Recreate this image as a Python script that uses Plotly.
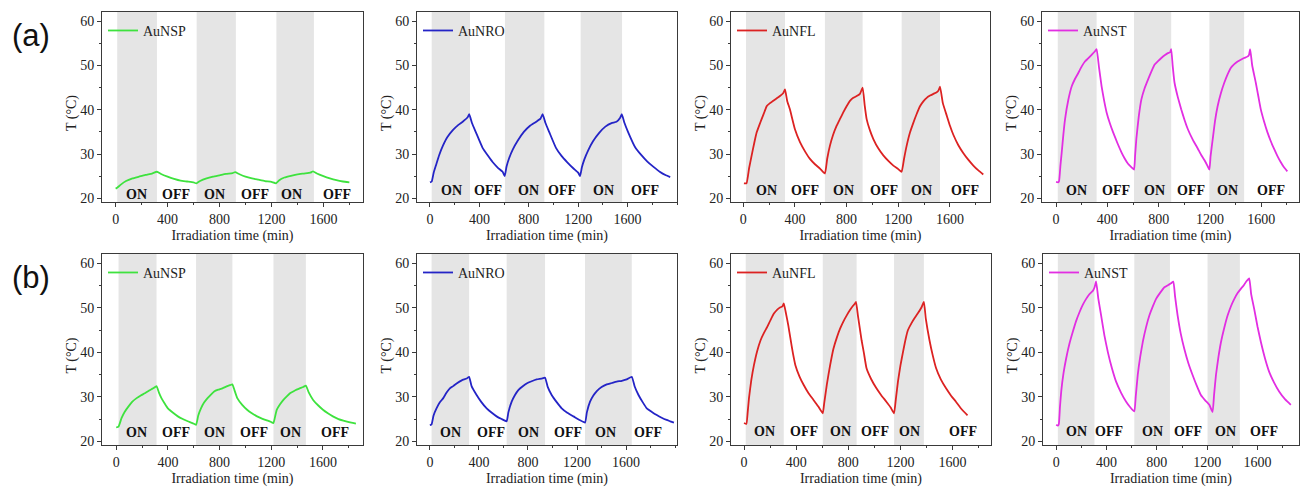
import plotly.graph_objects as go

W, H = 1302, 488

# ---------------- data ----------------
# (a) row
a_nsp_t = [0, 12, 40, 80, 130, 180, 230, 280, 318,
           350, 400, 450, 500, 550, 600, 622,
           650, 700, 750, 800, 850, 900, 920,
           950, 1000, 1050, 1100, 1150, 1200, 1235,
           1260, 1300, 1350, 1400, 1450, 1500, 1520,
           1550, 1600, 1650, 1700, 1750, 1800]
a_nsp_T = [22.2, 22.4, 23.1, 23.9, 24.5, 24.9, 25.3, 25.6, 26.0,
           25.5, 24.9, 24.4, 24.0, 23.8, 23.6, 23.4,
           23.9, 24.5, 24.9, 25.2, 25.5, 25.7, 25.9,
           25.5, 24.9, 24.5, 24.2, 23.9, 23.7, 23.4,
           24.1, 24.7, 25.1, 25.4, 25.6, 25.8, 26.1,
           25.6, 25.0, 24.5, 24.1, 23.8, 23.6]

a_nro_t = [0, 14, 30, 50, 75, 105, 140, 185, 230, 265, 305, 318,
           340, 372, 426, 470, 507, 550, 588, 605,
           620, 640, 670, 710, 760, 810, 860, 895, 912,
           935, 965, 1020, 1065, 1110, 1160, 1200, 1215,
           1230, 1250, 1280, 1320, 1370, 1420, 1470, 1510, 1540, 1553,
           1575, 1605, 1660, 1710, 1760, 1810, 1860, 1910, 1945]
a_nro_T = [23.6, 23.8, 25.8, 27.6, 29.8, 31.9, 33.8, 35.4, 36.6, 37.3, 38.3, 39.0,
           37.0, 34.9, 31.4, 29.6, 28.2, 26.9, 26.0, 25.0,
           27.2, 29.0, 31.0, 33.0, 35.0, 36.4, 37.3, 38.0, 39.0,
           37.0, 35.0, 31.4, 29.6, 28.2, 26.8, 25.8, 25.0,
           27.0, 28.8, 30.8, 32.9, 34.8, 36.2, 37.0, 37.3, 38.2, 39.0,
           37.0, 34.9, 31.6, 29.8, 28.3, 27.1, 26.0, 25.2, 24.8]

a_nfl_t = [5, 25, 45, 65, 85, 104, 125, 142, 165, 181, 207, 245, 284, 310, 323,
           340, 361, 400, 439, 480, 516, 555, 594, 632,
           650, 671, 695, 723, 750, 774, 800, 826, 852, 878, 903, 924,
           940, 955, 980, 1007, 1045, 1084, 1125, 1162, 1200, 1226,
           1245, 1265, 1290, 1317, 1343, 1368, 1394, 1420, 1446, 1472, 1495, 1510, 1523,
           1545, 1575, 1600, 1627, 1665, 1704, 1740, 1781, 1820, 1858]
a_nfl_T = [23.4, 23.4, 26.8, 29.7, 32.5, 34.9, 36.6, 37.9, 39.6, 40.8, 41.5, 42.3, 43.1, 43.8, 44.6,
           42.0, 40.1, 35.6, 32.7, 30.5, 28.9, 27.7, 26.7, 25.6,
           29.0, 31.9, 34.3, 36.4, 38.0, 39.4, 40.8, 42.0, 42.7, 43.1, 43.6, 45.0,
           41.0, 37.9, 35.4, 33.4, 31.3, 29.7, 28.4, 27.4, 26.6, 26.0,
           29.0, 31.9, 34.8, 37.1, 39.1, 40.8, 41.9, 42.7, 43.2, 43.6, 43.9, 44.3, 45.2,
           41.5, 38.7, 36.4, 34.3, 32.0, 30.2, 28.8, 27.4, 26.3, 25.4]

a_nst_t = [0, 15, 23, 34, 44, 57, 70, 95, 122, 148, 173, 200, 225, 250, 277, 300, 316,
           335, 355, 375, 394, 420, 445, 478, 510, 535, 561, 585, 608,
           616, 626, 645, 665, 690, 717, 743, 769, 795, 821, 847, 872, 890, 898,
           910, 924, 950, 976, 1002, 1028, 1067, 1106, 1132, 1158, 1180, 1196,
           1205, 1222, 1240, 1260, 1286, 1312, 1338, 1364, 1390, 1416, 1441, 1467, 1493, 1505, 1514,
           1530, 1558, 1578, 1597, 1623, 1649, 1675, 1700, 1726, 1752, 1778, 1804]
a_nst_T = [23.7, 23.6, 23.9, 27.5, 30.4, 34.5, 37.9, 42.2, 45.3, 47.0, 48.3, 49.8, 50.9, 51.6, 52.4, 53.1, 53.7,
           49.5, 45.3, 42.0, 39.4, 36.9, 34.9, 32.5, 30.4, 29.0, 27.8, 27.1, 26.5,
           29.5, 33.4, 38.5, 42.3, 44.8, 46.8, 48.6, 50.2, 51.0, 51.7, 52.3, 52.8, 53.0, 53.7,
           49.8, 46.1, 42.8, 40.1, 37.7, 35.6, 33.2, 31.2, 29.8, 28.6, 27.4, 26.5,
           29.5, 33.4, 37.5, 40.8, 43.8, 46.1, 48.0, 49.5, 50.3, 50.9, 51.3, 51.7, 52.0, 52.4, 53.7,
           50.0, 46.1, 43.0, 40.1, 37.3, 34.9, 32.9, 31.2, 29.6, 28.2, 27.0, 26.1]

# (b) row
b_nsp_t = [0, 18, 41, 65, 94, 125, 158, 190, 222, 255, 286, 312,
           330, 350, 375, 400, 440, 477, 515, 554, 590, 618,
           635, 656, 680, 707, 733, 758, 790, 822, 860, 880, 899,
           915, 937, 975, 1013, 1050, 1090, 1128, 1166, 1195, 1217,
           1230, 1243, 1268, 1294, 1320, 1345, 1370, 1396, 1420, 1447, 1468,
           1490, 1524, 1562, 1600, 1638, 1677, 1720, 1779, 1820, 1855]
b_nsp_T = [23.1, 23.3, 25.2, 26.6, 27.8, 28.9, 29.7, 30.3, 30.8, 31.4, 31.9, 32.4,
           31.0, 29.7, 28.5, 27.4, 26.4, 25.6, 25.0, 24.5, 24.1, 23.7,
           25.8, 27.4, 28.7, 29.7, 30.5, 31.2, 31.6, 31.9, 32.4, 32.6, 32.8,
           31.5, 29.7, 28.2, 27.1, 26.3, 25.6, 25.1, 24.7, 24.4, 24.1,
           25.6, 27.1, 28.3, 29.3, 30.1, 30.8, 31.2, 31.6, 31.9, 32.2, 32.5,
           31.0, 29.3, 28.1, 27.1, 26.3, 25.6, 25.0, 24.5, 24.2, 24.0]

b_nro_t = [0, 14, 30, 54, 80, 109, 135, 163, 190, 218, 260, 300, 320,
           340, 381, 420, 463, 505, 544, 585, 626,
           640, 667, 694, 721, 755, 789, 830, 871, 910, 939,
           960, 993, 1034, 1075, 1120, 1170, 1220, 1265,
           1280, 1306, 1333, 1361, 1400, 1442, 1483, 1524, 1565, 1605, 1646,
           1670, 1701, 1735, 1769, 1810, 1850, 1890, 1930, 1960, 1990]
b_nro_T = [23.6, 23.8, 25.8, 27.4, 28.7, 29.7, 30.9, 31.9, 32.4, 33.0, 33.7, 34.1, 34.5,
           32.4, 30.4, 28.8, 27.4, 26.4, 25.6, 25.0, 24.5,
           26.5, 28.9, 30.4, 31.5, 32.3, 33.0, 33.5, 33.9, 34.1, 34.3,
           32.3, 30.4, 28.8, 27.4, 26.4, 25.6, 24.8, 24.2,
           26.5, 28.9, 30.3, 31.3, 32.2, 32.8, 33.1, 33.4, 33.6, 33.9, 34.5,
           32.3, 30.4, 28.8, 27.4, 26.6, 25.9, 25.3, 24.8, 24.5, 24.2]

b_nfl_t = [0, 18, 28, 38, 56, 76, 100, 127, 152, 178, 204, 229, 255, 279, 295, 305,
           320, 340, 356, 375, 394, 425, 457, 495, 533, 570, 604,
           615, 635, 660, 686, 712, 737, 762, 788, 813, 838, 850, 859,
           875, 902, 920, 940, 975, 1016, 1054, 1092, 1125, 1151,
           1165, 1181, 1200, 1220, 1240, 1258, 1284, 1309, 1335, 1360, 1380,
           1395, 1423, 1448, 1474, 1510, 1550, 1590, 1626, 1670, 1715]
b_nfl_T = [24.1, 23.9, 26.5, 29.7, 33.8, 37.1, 40.2, 42.7, 44.3, 45.7, 47.3, 48.7, 49.6, 50.1, 50.3, 51.0,
           49.0, 46.0, 43.1, 39.8, 37.1, 34.6, 32.7, 30.8, 29.3, 27.8, 26.3,
           28.5, 32.7, 37.0, 40.8, 43.3, 45.3, 46.9, 48.3, 49.5, 50.5, 50.9, 51.3,
           48.0, 42.7, 39.8, 36.4, 34.0, 31.9, 30.3, 28.9, 27.6, 26.3,
           29.5, 33.4, 37.0, 40.1, 43.0, 45.0, 46.5, 47.7, 48.8, 50.0, 51.3,
           47.5, 42.7, 39.3, 36.4, 33.9, 31.9, 30.2, 28.9, 27.2, 25.8]

b_nst_t = [0, 13, 21, 30, 40, 58, 79, 105, 132, 158, 185, 212, 238, 265, 291, 305, 317,
           335, 357, 383, 410, 443, 476, 516, 556, 590, 621,
           632, 648, 668, 688, 714, 741, 768, 794, 827, 860, 890, 913, 931,
           945, 965, 990, 1018, 1050, 1084, 1117, 1150, 1184, 1217, 1243,
           1255, 1270, 1290, 1310, 1336, 1363, 1390, 1416, 1442, 1469, 1490, 1508, 1534,
           1550, 1574, 1600, 1627, 1660, 1693, 1732, 1772, 1820, 1865]
b_nst_T = [23.7, 23.5, 23.9, 27.8, 31.2, 35.3, 38.6, 41.9, 44.6, 47.0, 49.0, 50.7, 52.0, 53.1, 53.8, 54.6, 55.9,
           52.0, 48.3, 43.8, 40.1, 36.4, 33.4, 30.9, 28.9, 27.6, 26.7,
           30.0, 34.9, 39.0, 42.3, 45.6, 48.3, 50.3, 52.0, 53.4, 54.6, 55.1, 55.5, 55.9,
           52.5, 48.3, 44.2, 40.8, 37.6, 34.9, 32.5, 30.4, 29.2, 28.2, 26.6,
           30.5, 34.9, 39.0, 42.3, 45.5, 48.3, 50.4, 52.0, 53.3, 54.3, 55.0, 55.8, 56.6,
           53.0, 49.7, 45.8, 42.3, 38.6, 35.6, 33.2, 31.2, 29.4, 28.2]

# laser ON intervals (min) per panel
on_a_nsp = [(12, 318), (624, 926), (1238, 1527)]
on_a_nro = [(14, 324), (607, 926), (1220, 1555)]
on_a_nfl = [(21, 323), (632, 924), (1226, 1523)]
on_a_nst = [(13, 316), (608, 898), (1196, 1467)]
on_b_nsp = [(18, 312), (618, 899), (1217, 1468)]
on_b_nro = [(14, 320), (626, 939), (1265, 1646)]
on_b_nfl = [(13, 305), (604, 864), (1151, 1380)]
on_b_nst = [(13, 304), (621, 904), (1203, 1460)]

state_labels = ["ON", "OFF", "ON", "OFF", "ON", "OFF"]
lab_a_nsp = [161, 468, 761, 1070, 1358, 1705]
lab_a_nro = [175, 472, 796, 1071, 1403, 1741]
lab_a_nfl = [176, 477, 774, 1089, 1381, 1716]
lab_a_nst = [160, 471, 769, 1053, 1338, 1675]
lab_b_nsp = [158, 465, 758, 1064, 1345, 1690]
lab_b_nro = [169, 495, 808, 1124, 1429, 1780]
lab_b_nfl = [158, 457, 737, 1004, 1270, 1677]
lab_b_nst = [159, 423, 767, 1044, 1349, 1653]

names = ["AuNSP", "AuNRO", "AuNFL", "AuNST"] * 2
colors = ["#3ee23e", "#2424c6", "#dc2222", "#e22ee2"] * 2
xs = [a_nsp_t, a_nro_t, a_nfl_t, a_nst_t, b_nsp_t, b_nro_t, b_nfl_t, b_nst_t]
ys = [a_nsp_T, a_nro_T, a_nfl_T, a_nst_T, b_nsp_T, b_nro_T, b_nfl_T, b_nst_T]
ons = [on_a_nsp, on_a_nro, on_a_nfl, on_a_nst, on_b_nsp, on_b_nro, on_b_nfl, on_b_nst]
labs = [lab_a_nsp, lab_a_nro, lab_a_nfl, lab_a_nst, lab_b_nsp, lab_b_nro, lab_b_nfl, lab_b_nst]
lab_y = [20.8, 21.8, 21.8, 21.8, 22.0, 21.9, 22.1, 22.1]

# ---------------- layout geometry (pixels) ----------------
xdom_px = [(102, 363), (417, 677), (731, 990), (1042, 1299),
           (102, 363), (417, 677), (731, 991), (1043, 1299)]
ydom_px = [(12, 204)] * 4 + [(256, 449)] * 4
xranges = [(-105, 1905), (-105, 2000), (-95, 1910), (-110, 1895),
           (-110, 1910), (-105, 2015), (-100, 1895), (-105, 1930)]
yrange = (19.1, 62.1)

SERIF = "Liberation Serif, Times New Roman, serif"
SANS = "Liberation Sans, Arial, sans-serif"
AX = "#3a3a3a"

fig = go.Figure()
layout = dict(width=W, height=H, margin=dict(l=0, r=0, t=0, b=0),
              paper_bgcolor="white", plot_bgcolor="white",
              font=dict(family=SERIF, size=14, color="#222"),
              shapes=[], annotations=[])

for i in range(8):
    k = i + 1
    sfx = "" if k == 1 else str(k)
    xa, ya = "x" + sfx, "y" + sfx
    lg = "legend" + sfx
    fig.add_trace(go.Scatter(x=xs[i], y=ys[i], mode="lines", name=names[i],
                             line=dict(color=colors[i], width=1.8, shape="spline", smoothing=0.4),
                             xaxis=xa, yaxis=ya, legend=lg, showlegend=True))
    x0, x1 = xdom_px[i]
    y0, y1 = ydom_px[i]
    layout["xaxis" + sfx] = dict(
        domain=[x0 / W, x1 / W], range=list(xranges[i]), anchor=ya,
        showline=True, mirror=True, linecolor=AX, linewidth=1,
        ticks="outside", ticklen=4, tickcolor=AX, tickwidth=1,
        tickvals=[0, 400, 800, 1200, 1600],
        minor=dict(ticks="outside", ticklen=2, tickcolor=AX, dtick=200, tick0=0),
        showgrid=False, zeroline=False,
        tickfont=dict(family=SERIF, size=14, color="#222"),
        title=dict(text="Irradiation time (min)", standoff=4,
                   font=dict(family=SERIF, size=14, color="#222")))
    layout["yaxis" + sfx] = dict(
        domain=[1 - y1 / H, 1 - y0 / H], range=list(yrange), anchor=xa,
        showline=True, mirror=True, linecolor=AX, linewidth=1,
        ticks="outside", ticklen=4, tickcolor=AX, tickwidth=1,
        tickvals=[20, 30, 40, 50, 60],
        minor=dict(ticks="outside", ticklen=2, tickcolor=AX, dtick=5, tick0=0),
        showgrid=False, zeroline=False,
        tickfont=dict(family=SERIF, size=14, color="#222"))
    # y-axis title placed as rotated text next to the axis
    layout["annotations"].append(dict(x=(x0 - 30) / W, y=1 - ((y0 + y1) / 2 + 6) / H,
                                      xref="paper", yref="paper", textangle=-90,
                                      xanchor="center", yanchor="middle", showarrow=False,
                                      text="T (°C)",
                                      font=dict(family=SERIF, size=14, color="#222")))
    layout[lg] = dict(x=(x0 + 1) / W, y=1 - (y0 + 3) / H, xanchor="left", yanchor="top",
                      bgcolor="rgba(0,0,0,0)", borderwidth=0, itemwidth=30,
                      font=dict(family=SERIF, size=14, color="#222"))
    for (s, e) in ons[i]:
        layout["shapes"].append(dict(type="rect", xref=xa, yref=ya + " domain",
                                     x0=s, x1=e, y0=0, y1=1, layer="below",
                                     fillcolor="#e5e5e5", line=dict(width=0)))
    for txt, lx in zip(state_labels, labs[i]):
        layout["annotations"].append(dict(x=lx, y=lab_y[i], xref=xa, yref=ya,
                                          xanchor="center", yanchor="middle",
                                          text="<b>" + txt + "</b>", showarrow=False,
                                          font=dict(family=SERIF, size=14, color="#111")))

for txt, cy in (("(a)", 36), ("(b)", 280)):
    layout["annotations"].append(dict(x=31 / W, y=1 - cy / H, xref="paper", yref="paper",
                                      xanchor="center", yanchor="middle",
                                      text=txt, showarrow=False,
                                      font=dict(family=SANS, size=31, color="#111")))

fig.update_layout(**layout)
fig.write_html("out.html")
